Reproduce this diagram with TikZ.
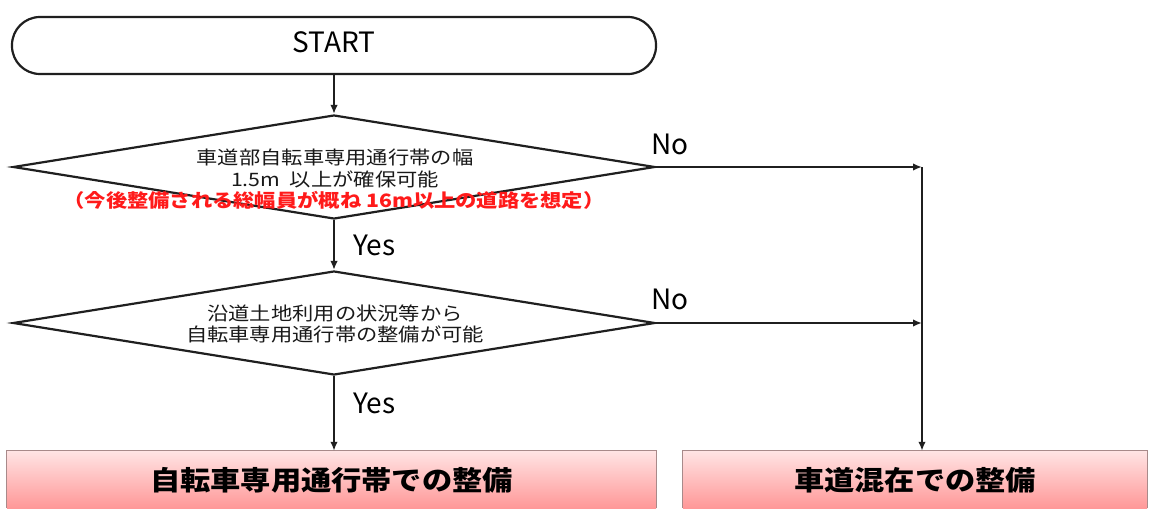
\documentclass[tikz,border=0pt]{standalone}
\usepackage{fontspec}
\setmainfont{Noto Sans CJK JP}
\usetikzlibrary{shapes.geometric,arrows.meta}
\definecolor{redtxt}{HTML}{FF1A1A}
\definecolor{pinktop}{HTML}{FFE4E4}
\definecolor{pinkbot}{HTML}{FF9898}
\definecolor{boxedge}{HTML}{A88A8A}
\newcommand{\hx}[2][1.15]{\scalebox{#1}[1]{#2}}
\tikzset{
  ln/.style={line width=2.2pt, draw=black!88},
  arr/.style={ln, -{Latex[length=9pt,width=7.5pt]}},
  term/.style={draw=black!88, line width=2.2pt, rounded corners=28pt, minimum width=644pt, minimum height=57pt, inner sep=0pt},
  dia/.style={diamond, draw=black!88, line width=2.2pt, minimum width=642pt, minimum height=104pt, inner sep=0pt},
  pbox/.style={inner sep=0pt, minimum height=57pt, top color=pinktop, bottom color=pinkbot, draw=none},
  edge/.style={draw=boxedge, line width=1.2pt},
  lbl/.style={font=\fontsize{28}{32}\selectfont, inner sep=0pt},
  dtxt/.style={font=\fontsize{18.5}{20}\selectfont, text=black!90, inner sep=0pt},
  rtxt/.style={font=\fontsize{18.5}{20}\selectfont\bfseries, text=redtxt, inner sep=0pt},
  btxt/.style={font=\fontsize{27}{32}\selectfont\bfseries, inner sep=0pt},
}
\begin{document}
\begin{tikzpicture}[x=1pt,y=-1pt]
\useasboundingbox[fill=white] (0,0) rectangle (1155,508);
% nodes
\node[term] (start) at (334,45.5) {};
\node[lbl] (starttxt) at (334,42) {START};
\node[dia] (d1) at (334,167) {};
\node[dia] (d2) at (334,323) {};
\node[pbox, minimum width=649pt] (b1) at (331.5,479.5) {};
\node[pbox, minimum width=464pt] (b2) at (915,479.5) {};
% box edges
\draw[edge] (b1.south west) -- (b1.north west) -- (b1.north east) -- (b1.south east);
\draw[edge] (b2.south west) -- (b2.north west) -- (b2.north east) -- (b2.south east);
% texts
\node[dtxt] (t1a) at (335,157) {\hx{車道部自転車専用通行帯の幅}};
\node[dtxt] (t1b) at (335,179) {\hx{1.5m\ \ 以上が確保可能}};
\node[rtxt] (t1c) at (334,200) {\hx{（今後整備される総幅員が概ね 16m以上の道路を想定）}};
\node[dtxt] (t2a) at (335,313) {\hx{沿道土地利用の状況等から}};
\node[dtxt] (t2b) at (335,334) {\hx{自転車専用通行帯の整備が可能}};
\node[btxt] (b1txt) at (331.5,480) {\hx[1.12]{自転車専用通行帯での整備}};
\node[btxt] (b2txt) at (915,480) {\hx[1.12]{車道混在での整備}};
\node[lbl, anchor=west] (no1) at (651,144) {No};
\node[lbl, anchor=west] (no2) at (651,299) {No};
\node[lbl, anchor=west] (yes1) at (353,245) {Yes};
\node[lbl, anchor=west] (yes2) at (353,403) {Yes};
% junctions
\coordinate (j1) at (922,167);
\coordinate (j2) at (922,323);
% connectors
\draw[arr] (start.south) -- (d1.north);
\draw[arr] (d1.south) -- (d2.north);
\draw[arr] (d2.south) -- (d2.south |- b1.north);
\draw[arr] (d1.east) -- (j1);
\draw[arr] (d2.east) -- (j2);
\draw[arr] (j1) -- (j1 |- b2.north);
\end{tikzpicture}
\end{document}
